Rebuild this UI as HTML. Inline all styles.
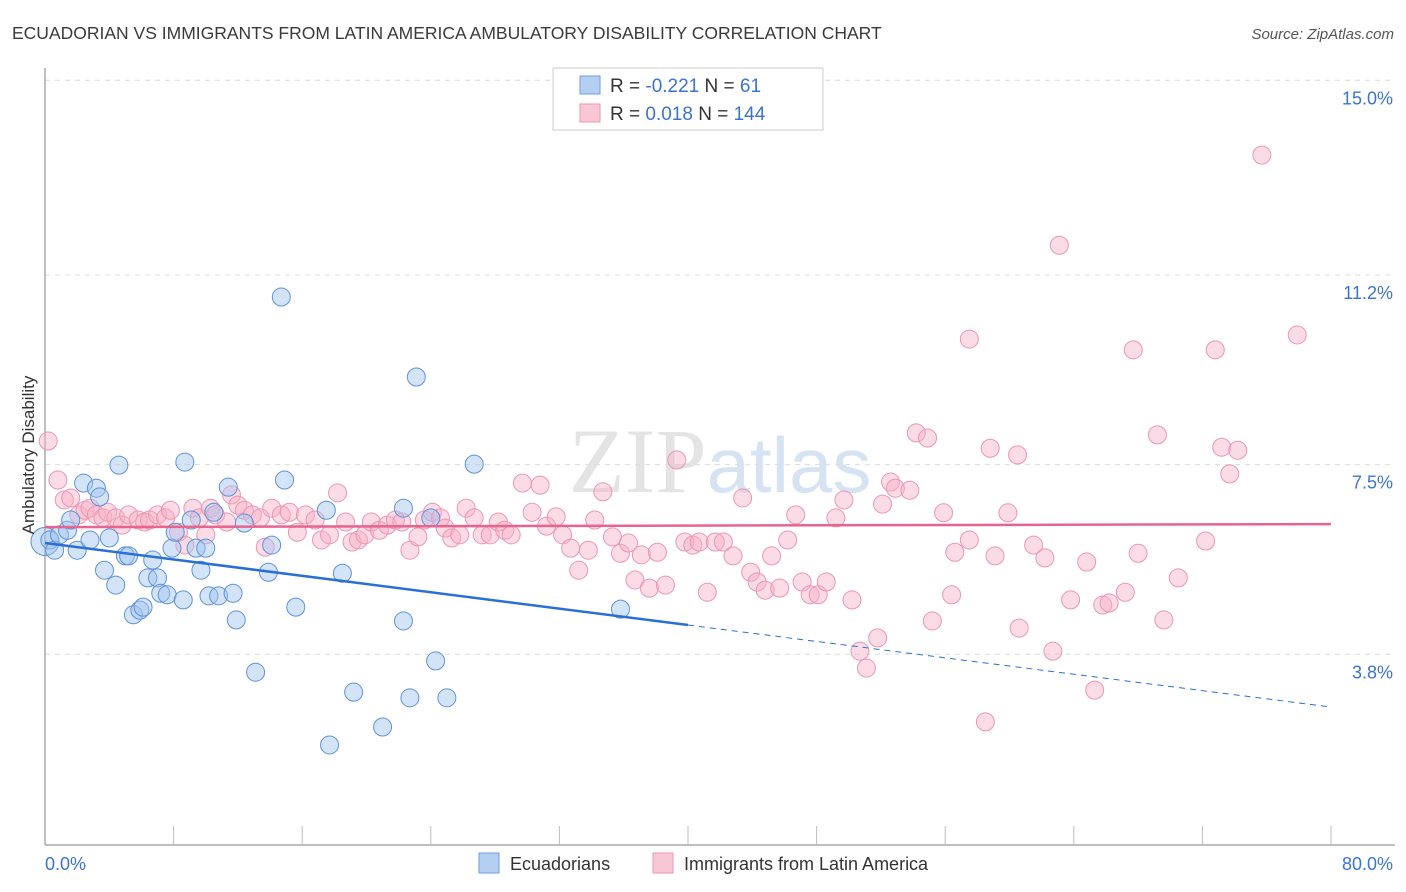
<!DOCTYPE html>
<html><head><meta charset="utf-8"><style>
body{margin:0;background:#fff;font-family:"Liberation Sans",sans-serif;}
svg{display:block}
</style></head><body>
<svg id="chart" width="1406" height="892" xmlns="http://www.w3.org/2000/svg">
<text x="12" y="39" font-size="17.5" fill="#3a3a3a">ECUADORIAN VS IMMIGRANTS FROM LATIN AMERICA AMBULATORY DISABILITY CORRELATION CHART</text>
<text x="1394" y="39" font-size="15" fill="#555" font-style="italic" text-anchor="end">Source: ZipAtlas.com</text>
<text x="720" y="492" font-size="92" fill="#e4e4e4" text-anchor="middle" font-family="Liberation Serif,serif">ZIP<tspan fill="#d6e3f3" font-family="Liberation Sans,sans-serif" font-size="78">atlas</tspan></text>
<g id="grid"></g>
<g id="axes"></g>
<g id="pts"></g>
<g id="lines"></g>
<text transform="translate(34,455) rotate(-90)" font-size="17" fill="#333" text-anchor="middle">Ambulatory Disability</text>
<g>
<rect x="553" y="68" width="270" height="62" fill="#fff" stroke="#ccc"/>
<rect x="580" y="76" width="20" height="18" fill="#b5cff2" stroke="#6f9ee0"/>
<rect x="580" y="104" width="20" height="18" fill="#f9c6d5" stroke="#ea9ab3"/>
<text x="610" y="92" font-size="19" fill="#333">R = <tspan fill="#3a74d0">-0.221</tspan>   N = <tspan fill="#3a74d0">  61</tspan></text>
<text x="610" y="120" font-size="19" fill="#333">R =  <tspan fill="#3a74d0">0.018</tspan>   N = <tspan fill="#3a74d0">144</tspan></text>
</g>
<g>
<rect x="479" y="853" width="20" height="20" fill="#b5cff2" stroke="#6f9ee0"/>
<text x="510" y="870" font-size="18" fill="#333">Ecuadorians</text>
<rect x="653" y="853" width="20" height="20" fill="#f9c6d5" stroke="#ea9ab3"/>
<text x="684" y="870" font-size="18" fill="#333">Immigrants from Latin America</text>
</g>
</svg>
<script>
const yTicks=[3.8,7.5,11.2,15.0];
const yTickLabels=["3.8%","7.5%","11.2%","15.0%"];
const xTickCount=10;
const xLabels=["0.0%","80.0%"];
const blueX=[0,0.3,0.6,0.9,1.4,1.6,2.0,2.4,2.8,3.2,3.4,3.7,4.0,4.4,4.6,5.0,5.2,5.5,5.9,6.1,6.4,6.7,7.0,7.2,7.6,7.9,8.1,8.6,8.7,9.1,9.4,9.7,10.0,10.2,10.5,10.8,11.4,11.7,11.9,12.4,13.1,13.9,14.1,14.7,14.9,15.6,17.5,17.7,18.5,19.2,21.0,22.3,22.3,22.7,23.1,24.0,24.3,25.0,26.7,35.8];
const blueY=[6.0,6.03,5.83,6.13,6.22,6.42,5.83,7.14,6.03,7.04,6.87,5.44,6.07,5.15,7.49,5.72,5.72,4.57,4.66,4.72,5.29,5.64,5.29,4.99,4.96,5.87,6.18,4.86,7.55,6.42,5.87,5.44,5.87,4.94,6.57,4.94,7.06,4.99,4.47,6.36,3.45,5.40,5.93,10.77,7.20,4.72,6.61,2.03,5.38,3.06,2.38,6.65,4.45,2.95,9.21,6.46,3.67,2.95,7.51,4.68];
const pinkX=[0.2,0.8,1.2,1.6,2.1,2.5,2.8,3.2,3.6,3.9,4.4,4.8,5.2,5.8,6.2,6.5,7.0,7.5,7.8,8.3,8.7,9.2,9.6,10.0,10.3,10.6,11.3,11.6,12.0,12.4,12.9,13.4,13.7,14.1,14.7,15.2,15.7,16.2,16.8,17.2,17.7,18.2,18.7,19.1,19.5,19.9,20.3,20.8,21.3,21.8,22.2,22.7,23.2,23.6,24.1,24.6,24.9,25.3,25.8,26.2,26.7,27.2,27.7,28.2,28.6,29.0,29.7,30.3,30.8,31.2,31.8,32.2,32.7,33.2,33.8,34.2,34.7,35.3,35.8,36.3,36.7,37.1,37.6,38.1,38.6,39.3,39.8,40.3,40.7,41.2,41.7,42.2,42.8,43.4,43.9,44.3,44.8,45.2,45.7,46.2,46.7,47.1,47.6,48.1,48.6,49.2,49.7,50.2,50.7,51.1,51.8,52.1,52.6,52.9,53.8,54.2,54.9,55.2,55.9,56.4,56.6,57.5,57.5,58.5,58.8,59.1,59.9,60.5,60.6,61.5,62.2,62.7,63.1,63.8,64.8,65.3,65.8,66.2,67.2,67.7,68.0,69.2,69.6,70.5,72.2,72.8,73.2,73.7,74.2,75.7,77.9];
const pinkY=[7.96,7.20,6.81,6.85,6.52,6.61,6.65,6.52,6.46,6.57,6.46,6.32,6.52,6.42,6.38,6.42,6.52,6.46,6.61,6.18,5.93,6.65,6.46,6.13,6.65,6.52,6.38,6.91,6.71,6.61,6.52,6.46,5.89,6.65,6.52,6.57,6.18,6.52,6.42,6.03,6.13,6.95,6.38,5.99,6.03,6.13,6.38,6.22,6.32,6.42,6.38,5.83,6.09,6.42,6.57,6.46,6.26,6.07,6.13,6.65,6.46,6.13,6.13,6.38,6.22,6.13,7.14,6.57,7.10,6.30,6.48,6.13,5.87,5.44,5.83,6.42,6.97,6.09,5.77,5.97,5.25,5.74,5.09,5.79,5.15,7.59,5.99,5.93,5.99,5.01,5.99,5.99,5.72,6.85,5.40,5.21,5.05,5.72,5.09,6.03,6.52,5.21,4.96,4.96,5.21,6.46,6.81,4.86,3.86,3.53,4.12,6.73,7.16,7.04,7.00,8.12,8.02,4.45,6.56,4.96,5.79,9.95,6.03,2.48,7.82,5.72,6.56,7.69,4.31,5.93,5.68,3.86,11.78,4.86,5.60,3.10,4.76,4.80,5.01,9.74,5.77,8.08,4.47,5.29,6.01,9.74,7.84,7.32,7.78,13.54,10.03];
const blueTrend=[5.97,2.77]; // value at x=0 and x=80
const pinkTrend=[6.28,6.34];
const blueSolidEnd=40;

const NS="http://www.w3.org/2000/svg";
const X0=45,X1=1331,Y0=849,PXY=51.25;
function sx(v){return X0+v/80*(X1-X0);}
function sy(v){return Y0-v*PXY;}
function mk(tag,attrs,parent){const e=document.createElementNS(NS,tag);for(const k in attrs)e.setAttribute(k,attrs[k]);parent.appendChild(e);return e;}
const grid=document.getElementById('grid'),axes=document.getElementById('axes'),pts=document.getElementById('pts'),lines=document.getElementById('lines');
yTicks.forEach((t,i)=>{
  const l=mk('line',{x1:45,x2:1395,y1:sy(t),y2:sy(t),stroke:'#dcdcdc','stroke-dasharray':'5,5'},grid);
  
  
  const tx=mk('text',{x:1393,y:sy(t)+24,'font-size':18,fill:'#3a74d0','text-anchor':'end'},grid);
  tx.textContent=yTickLabels[i];
  
  
});
const ya=mk('line',{x1:45,x2:45,y1:68,y2:845,stroke:'#aaa','stroke-width':1.5},axes);


const xa=mk('line',{x1:45,x2:1395,y1:845,y2:845,stroke:'#aaa','stroke-width':1.5},axes);


for(let i=1;i<=xTickCount;i++){
  const t=mk('line',{x1:sx(i*8),x2:sx(i*8),y1:826,y2:845,stroke:'#bbb'},axes);
  
  
}
const xl0=mk('text',{x:45,y:870,'font-size':18,fill:'#3a74d0'},axes);xl0.textContent=xLabels[0];


const xl1=mk('text',{x:1393,y:870,'font-size':18,fill:'#3a74d0','text-anchor':'end'},axes);xl1.textContent=xLabels[1];


pinkX.forEach((x,i)=>{
  const c=mk('circle',{cx:sx(x),cy:sy(pinkY[i]),r:9,fill:'rgba(246,176,198,0.45)',stroke:'#eb97b2','stroke-width':1},pts);
  
  
});
blueX.forEach((x,i)=>{
  const c=mk('circle',{cx:sx(x),cy:sy(blueY[i]),r:i===0?14:9,fill:'rgba(160,196,240,0.45)',stroke:'#5d92da','stroke-width':1},pts);
  
  
});
function ty(tr,x){return tr[0]+(tr[1]-tr[0])*x/80;}
const pl=mk('line',{x1:sx(0),y1:sy(ty(pinkTrend,0)),x2:sx(80),y2:sy(ty(pinkTrend,80)),stroke:'#e8638e','stroke-width':2.5},lines);


const bl=mk('line',{x1:sx(0),y1:sy(ty(blueTrend,0)),x2:sx(blueSolidEnd),y2:sy(ty(blueTrend,blueSolidEnd)),stroke:'#2a6fd6','stroke-width':2.5},lines);


const bd=mk('line',{x1:sx(blueSolidEnd),y1:sy(ty(blueTrend,blueSolidEnd)),x2:sx(80),y2:sy(ty(blueTrend,80)),stroke:'#2a6fd6','stroke-width':1,'stroke-dasharray':'6,5'},lines);


</script>
</body></html>
